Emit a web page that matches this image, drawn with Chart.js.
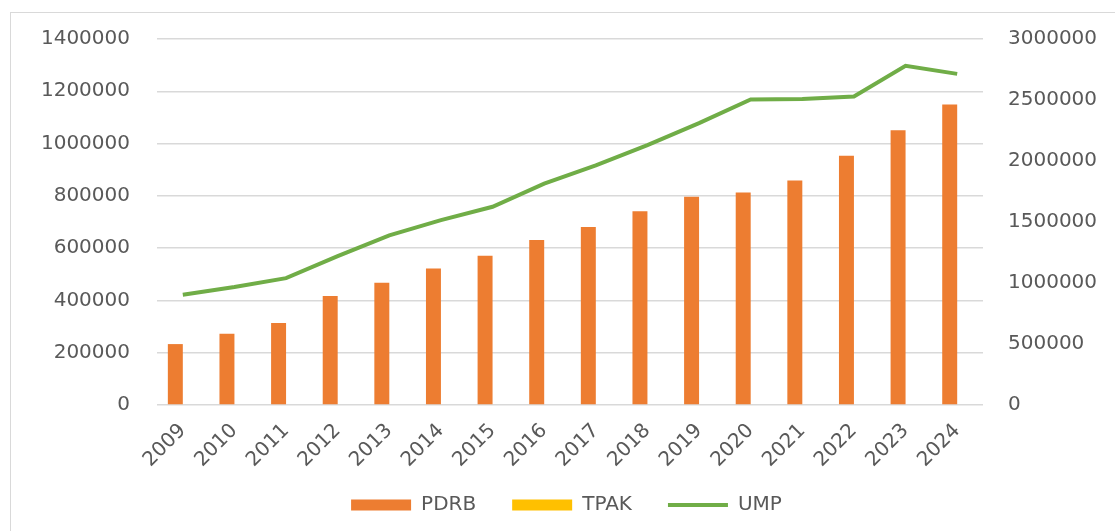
<!DOCTYPE html>
<html>
<head>
<meta charset="utf-8">
<script src="https://cdn.jsdelivr.net/npm/chart.js@4"></script>
<style>
    html, body { margin: 0; padding: 0; background: #fff; overflow: hidden; }
    #frame { position: absolute; left: 10px; top: 12px; width: 1200px; height: 600px; border: 1px solid #d9d9d9; }
    #chart { position: absolute; left: 0; top: 0; }
</style>
</head>
<body>
<div id="frame"></div>
<canvas id="chart" width="1115" height="531"></canvas>
<script>
const years = ['2009', '2010', '2011', '2012', '2013', '2014', '2015', '2016',
    '2017', '2018', '2019', '2020', '2021', '2022', '2023', '2024'];
const pdrb = [233000, 273000, 314000, 417000, 468000, 522000, 571000, 631000,
    681000, 741000, 797000, 813000, 859000, 953000, 1051000, 1149000];
// TPAK has no visible bars in the picture
const tpak = [null, null, null, null, null, null, null, null,
    null, null, null, null, null, null, null, null];
const ump = [904000, 967000, 1040000, 1220000, 1390000, 1515000, 1625000, 1815000,
    1965000, 2130000, 2310000, 2505000, 2508000, 2528000, 2780000, 2714000];
const leftTicks = [0, 200000, 400000, 600000, 800000, 1000000, 1200000, 1400000];
const rightTicks = [0, 500000, 1000000, 1500000, 2000000, 2500000, 3000000];

const textColor = '#595959';
const gridColor = '#d9d9d9';
Chart.defaults.font.family = "'DejaVu Sans', sans-serif";
Chart.defaults.font.size = 20;
Chart.defaults.color = textColor;

const plain = (v) => String(v);

new Chart(document.getElementById('chart').getContext('2d'), {
    type: 'bar',
    data: {
        labels: years,
        datasets: [
            { label: 'PDRB', data: pdrb, backgroundColor: '#ed7d31', yAxisID: 'y', categoryPercentage: 0.58, barPercentage: 1 },
            { label: 'TPAK', data: tpak, backgroundColor: '#ffc000', yAxisID: 'y', categoryPercentage: 0.58, barPercentage: 1 },
            { type: 'line', label: 'UMP', data: ump, borderColor: '#70ad47', backgroundColor: '#70ad47', borderWidth: 4, pointRadius: 0, tension: 0, yAxisID: 'y1' }
        ]
    },
    options: {
        responsive: false,
        animation: false,
        layout: { padding: { top: 35, left: 18, right: 0, bottom: 6 } },
        plugins: {
            tooltip: { enabled: false },
            legend: {
                position: 'bottom',
                labels: {
                    usePointStyle: true,
                    pointStyleWidth: 60,
                    boxHeight: 11,
                    padding: 36,
                    color: textColor,
                    generateLabels: (chart) => {
                        const items = Chart.defaults.plugins.legend.labels.generateLabels(chart);
                        items.forEach(it => {
                            if (it.text === 'UMP') {
                                it.pointStyle = 'line';
                                it.lineWidth = 4;
                                it.strokeStyle = '#70ad47';
                            } else {
                                it.pointStyle = 'rect';
                                it.lineWidth = 0;
                            }
                        });
                        return items;
                    }
                }
            }
        },
        scales: {
            x: {
                grid: { display: false },
                border: { display: false },
                ticks: { autoSkip: false, minRotation: 45, maxRotation: 45, padding: 6 },
                afterFit: (s) => {
                    s.height = 54;
                    // let the rotated year labels run below the axis box
                    s._computeLabelArea = () => undefined;
                }
            },
            y: {
                position: 'left',
                min: 0, max: 1400000,
                afterBuildTicks: (s) => { s.ticks = leftTicks.map(v => ({ value: v })); },
                grid: { color: gridColor, lineWidth: 1.5, drawTicks: false },
                border: { display: false },
                ticks: { padding: 27, callback: plain },
                afterFit: (s) => { s.width = 139; }
            },
            y1: {
                position: 'right',
                min: 0, max: 3000000,
                afterBuildTicks: (s) => { s.ticks = rightTicks.map(v => ({ value: v })); },
                grid: { display: false, drawTicks: false },
                border: { display: false },
                ticks: { padding: 25, callback: plain },
                afterFit: (s) => { s.width = 132; }
            }
        }
    }
});
</script>
</body>
</html>
